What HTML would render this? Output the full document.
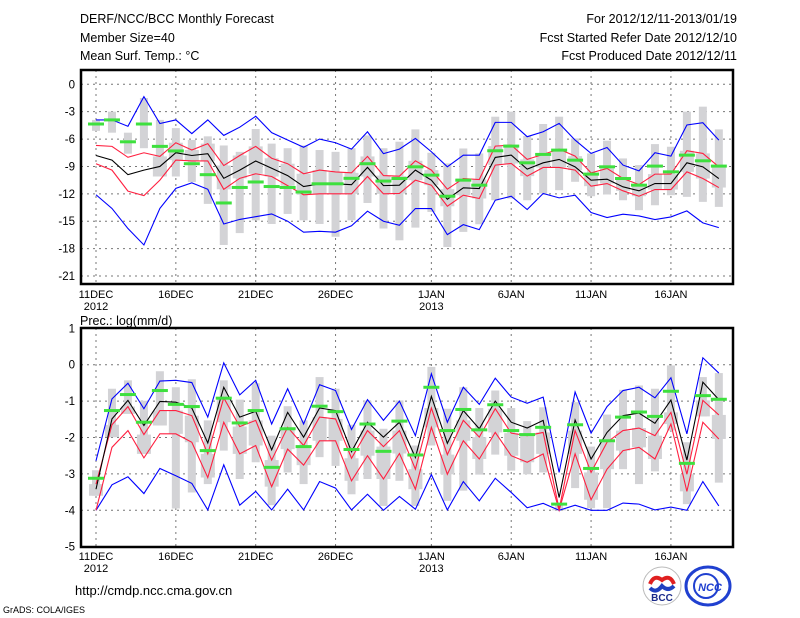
<!DOCTYPE html>
<html><head><meta charset="utf-8"><style>
html,body{margin:0;padding:0;background:#fff}
svg{display:block;font-family:"Liberation Sans",sans-serif}
</style></head><body>
<svg id="chart" width="800" height="618" viewBox="0 0 800 618" xmlns="http://www.w3.org/2000/svg">
<g font-size="12.5" fill="#000">
<text x="80" y="23">DERF/NCC/BCC Monthly Forecast</text>
<text x="80" y="42">Member Size=40</text>
<text x="80" y="60">Mean Surf. Temp.: °C</text>
<text x="737" y="23" text-anchor="end">For 2012/12/11-2013/01/19</text>
<text x="737" y="42" text-anchor="end">Fcst Started Refer Date 2012/12/10</text>
<text x="737" y="60" text-anchor="end">Fcst Produced Date 2012/12/11</text>
</g>
<g id="top"></g>
<g id="bot"></g>
<text x="80" y="325" font-size="12.5">Prec.: log(mm/d)</text>
<text x="75" y="595" font-size="13">http://cmdp.ncc.cma.gov.cn</text>
<text x="3" y="613" font-size="9">GrADS: COLA/IGES</text>
<g>
<circle cx="662" cy="586" r="19" fill="#fff" stroke="#bbb"/>
<path d="M650 584 q4 -10 12 -4 q8 -6 12 4" fill="none" stroke="#e02020" stroke-width="4"/>
<path d="M650 588 q6 6 12 -2 q6 6 12 0" fill="none" stroke="#2040c0" stroke-width="4"/>
<text x="662" y="601" font-size="10" font-weight="bold" text-anchor="middle" fill="#1a2a8a">BCC</text>
</g>
<g>
<ellipse cx="708" cy="586" rx="22" ry="19" fill="none" stroke="#2040d0" stroke-width="3"/>
<circle cx="706" cy="586" r="12" fill="none" stroke="#2040d0" stroke-width="2"/>
<text x="710" y="591" font-size="11" font-weight="bold" font-style="italic" text-anchor="middle" fill="#2040d0">NCC</text>
</g>
<script>
const days = ["11DEC","12","13","14","15","16DEC","17","18","19","20","21DEC","22","23","24","25","26DEC","27","28","29","30","31","1JAN","2","3","4","5","6JAN","7","8","9","10","11JAN","12","13","14","15","16JAN","17","18","19"];
const tempTicks = [0,-3,-6,-9,-12,-15,-18,-21];
const precTicks = [1,0,-1,-2,-3,-4,-5];
const tBlueUp = [-3.9,-3.9,-4.6,-1.35,-4.3,-3.9,-5.4,-3.9,-5.6,-4.7,-3.5,-5.3,-6.1,-6.9,-6.0,-6.4,-7.1,-5.2,-7.6,-7.10,-5.93,-7.39,-9.04,-7.76,-7.76,-4.17,-4.17,-5.74,-5.20,-4.28,-6.11,-7.57,-6.92,-8.85,-9.48,-7.50,-7.87,-4.46,-4.21,-6.11];
const tRedUp = [-6.7,-6.8,-8.0,-7.5,-7.9,-6.4,-7.2,-6.5,-8.9,-7.8,-6.8,-8.1,-8.7,-9.8,-9.4,-9.6,-9.7,-7.9,-10.0,-10.06,-8.38,-9.40,-11.49,-10.32,-10.43,-6.77,-6.66,-8.23,-7.68,-7.10,-7.87,-9.70,-9.22,-10.32,-10.98,-9.84,-9.84,-7.28,-7.57,-9.04];
const tMean = [-7.8,-8.3,-9.9,-9.4,-9.0,-7.5,-7.8,-7.6,-10.3,-9.4,-8.4,-9.2,-10.0,-11.2,-10.9,-10.9,-11.0,-9.1,-11.1,-11.05,-9.40,-10.50,-12.59,-11.34,-11.42,-8.01,-7.76,-9.29,-8.60,-8.23,-9.04,-10.50,-10.39,-11.23,-11.67,-10.87,-10.87,-8.60,-9.04,-10.32];
const tRedLow = [-8.7,-9.4,-11.7,-12.2,-10.5,-8.3,-8.4,-8.4,-11.5,-10.3,-9.8,-10.1,-11.1,-12.1,-12.0,-12.0,-12.0,-10.1,-12.0,-11.96,-10.50,-11.05,-13.36,-12.15,-12.51,-8.85,-8.67,-10.06,-9.11,-9.11,-9.40,-11.16,-10.87,-11.67,-12.26,-11.53,-11.53,-9.59,-10.32,-11.31];
const tBlueLow = [-12.1,-13.6,-15.8,-17.6,-13.6,-11.4,-10.8,-11.5,-15.3,-14.8,-14.5,-14.2,-15.0,-16.2,-16.1,-16.2,-15.5,-13.9,-15.0,-15.44,-13.61,-13.61,-16.47,-15.37,-15.92,-12.70,-12.26,-13.72,-11.96,-12.44,-12.15,-14.05,-14.60,-14.23,-14.42,-14.82,-14.53,-13.87,-15.18,-15.70];
const tObs = [-4.35,-3.9,-6.3,-4.35,-6.8,-7.3,-8.7,-9.9,-13.0,-11.3,-10.7,-11.2,-11.3,-11.8,-10.9,-10.9,-10.3,-8.7,-10.6,-10.32,-9.04,-9.95,-12.26,-10.50,-11.05,-7.28,-6.77,-8.60,-7.68,-7.21,-8.31,-9.84,-9.04,-10.32,-11.05,-8.96,-9.59,-7.76,-8.38,-8.96];
const tBoxMax = [-3.9,-3.0,-5.3,-1.5,-3.9,-4.8,-6.1,-5.7,-6.7,-7.4,-4.9,-6.5,-7.0,-6.7,-7.2,-7.4,-7.0,-5.6,-7.0,-6.29,-4.94,-7.50,-8.67,-7.03,-7.57,-3.55,-3.0,-5.67,-4.35,-3.55,-5.93,-7.57,-6.18,-8.12,-8.85,-6.55,-6.84,-3.0,-2.45,-4.94];
const tBoxMin = [-5.1,-5.3,-7.6,-7.0,-10.1,-10.1,-10.7,-13.1,-17.6,-16.3,-14.9,-15.3,-14.2,-14.9,-15.3,-16.7,-14.9,-13.0,-15.8,-17.09,-15.70,-13.98,-17.82,-16.17,-15.33,-12.70,-12.51,-12.70,-11.96,-11.60,-10.68,-12.26,-12.07,-12.70,-13.79,-13.25,-12.15,-12.33,-12.88,-13.43];
const pBlueUp = [-2.64,-0.94,-0.51,-1.21,-0.45,-0.43,-0.49,-1.44,0.05,-0.83,-0.43,-1.63,-0.66,-1.63,-0.55,-0.71,-1.78,-0.96,-1.53,-1.00,-1.95,-0.25,-1.58,-0.62,-1.09,-0.37,-0.89,-1.06,-0.89,-2.96,-0.75,-1.88,-1.15,-0.71,-0.62,-0.91,-0.36,-1.90,0.19,-0.23];
const pRedUp = [-3.28,-1.65,-1.15,-1.92,-1.26,-1.26,-1.40,-2.45,-0.91,-1.70,-1.53,-2.62,-1.72,-2.22,-1.44,-1.49,-2.57,-1.81,-2.25,-1.81,-2.87,-1.19,-2.47,-1.53,-1.99,-1.21,-1.88,-1.95,-1.86,-3.97,-1.81,-2.96,-2.13,-1.81,-1.74,-1.95,-1.31,-3.01,-0.98,-1.38];
const pMean = [-3.42,-1.49,-0.98,-1.67,-1.01,-1.03,-1.19,-2.15,-0.62,-1.44,-1.28,-2.34,-1.31,-1.99,-1.19,-1.26,-2.39,-1.58,-1.99,-1.58,-2.55,-0.87,-2.16,-1.26,-1.76,-1.00,-1.58,-1.74,-1.53,-3.65,-1.52,-2.59,-1.86,-1.40,-1.33,-1.61,-0.97,-2.62,-0.48,-0.96];
const pRedLow = [-4.0,-2.27,-1.81,-2.56,-1.90,-1.90,-2.13,-3.10,-1.58,-2.45,-2.22,-3.35,-2.32,-2.76,-2.09,-2.09,-3.19,-2.50,-3.14,-2.44,-3.42,-1.72,-3.01,-2.09,-2.59,-1.86,-2.50,-2.68,-2.45,-4.0,-2.45,-3.71,-2.87,-2.36,-2.27,-2.59,-1.63,-3.48,-1.58,-2.04];
const pBlueLow = [-4.0,-3.30,-3.08,-3.54,-2.85,-3.05,-3.26,-3.99,-2.75,-3.86,-3.48,-3.99,-3.42,-3.99,-3.21,-3.39,-3.99,-3.56,-4.0,-3.62,-3.97,-3.02,-3.99,-3.21,-3.74,-3.12,-3.51,-3.93,-3.81,-4.0,-3.86,-4.0,-4.0,-3.80,-3.83,-3.99,-3.91,-4.0,-3.21,-3.88];
const pObs = [-3.12,-1.26,-0.82,-1.58,-0.71,-1.09,-1.15,-2.36,-0.92,-1.60,-1.26,-2.82,-1.76,-2.25,-1.14,-1.29,-2.33,-1.63,-2.38,-1.55,-2.48,-0.62,-1.81,-1.23,-1.79,-1.10,-1.81,-1.92,-1.72,-3.83,-1.65,-2.85,-2.09,-1.44,-1.30,-1.42,-0.73,-2.71,-0.85,-0.95];
const pBoxMax = [-2.9,-0.66,-0.43,-0.99,-0.18,-0.62,-0.40,-1.53,-0.43,-0.96,-0.51,-1.95,-1.14,-1.53,-0.34,-0.66,-1.65,-0.99,-1.76,-0.98,-2.22,-0.06,-1.21,-0.62,-1.19,-0.71,-1.19,-1.55,-1.17,-3.83,-1.03,-2.25,-1.37,-0.69,-0.57,-0.66,-0.02,-2.13,-0.34,-0.23];
const pBoxMin = [-3.6,-1.99,-1.35,-2.45,-1.67,-3.95,-3.51,-3.28,-2.36,-3.14,-2.68,-3.86,-2.96,-3.28,-2.54,-2.78,-3.56,-3.14,-3.88,-3.19,-3.88,-2.22,-3.74,-3.46,-3.02,-2.47,-2.91,-3.01,-2.96,-4.0,-3.39,-3.94,-3.94,-2.87,-3.28,-2.93,-1.81,-3.83,-1.42,-3.24];

const NS = "http://www.w3.org/2000/svg";
const X0 = 96, DX = 15.97;
function xAt(i){ return X0 + i*DX; }
function mk(parent, tag, attrs){
  const e = document.createElementNS(NS, tag);
  for (const k in attrs) e.setAttribute(k, attrs[k]);
  parent.appendChild(e); return e;
}
function panel(g, fy0, fy1, vTop, yTop, yBot, vBot, ticks, xlabY, S){
  const yAt = v => yTop + (vTop - v) * (yBot - yTop) / (vTop - vBot);
  ticks.forEach(t => {
    const y = yAt(t);
    if (y > fy0+1 && y < fy1-1) {
      const l = mk(g,'line',{x1:81,x2:733,y1:y,y2:y,stroke:'#777','stroke-dasharray':'2,4','stroke-width':1});
      
      
    }
    const tx = mk(g,'text',{x:75,y:y+4,'text-anchor':'end','font-size':11.5});
    tx.textContent = t;
    
    
  });
  days.forEach((d,i) => {
    if (/[A-Z]/.test(d)) {
      const x = xAt(i);
      const l = mk(g,'line',{x1:x,x2:x,y1:fy0,y2:fy1,stroke:'#777','stroke-dasharray':'2,4','stroke-width':1});
      
      
      const tx = mk(g,'text',{x:x,y:xlabY,'text-anchor':'middle','font-size':11});
      tx.textContent = d;
      
      
      if (d==="11DEC" || d==="1JAN") {
        const y2 = mk(g,'text',{x:x,y:xlabY+12,'text-anchor':'middle','font-size':11});
        y2.textContent = d==="11DEC" ? "2012" : "2013";
        
        
      }
    }
  });
  days.forEach((d,i) => {
    const x = xAt(i);
    const a = yAt(S.boxMax[i]), b = yAt(S.boxMin[i]);
    const r = mk(g,'rect',{x:x-4,y:a,width:8,height:Math.max(1,b-a),fill:'#d3d3d6'});
    
    
    const ia = Math.max(a, yAt(S.redUp[i])), ib = Math.min(b, yAt(S.redLow[i]));
    if (ib > ia) {
      const r2 = mk(g,'rect',{x:x-7,y:ia,width:14,height:ib-ia,fill:'#d3d3d6'});
      
      
    }
  });
  const line = (arr, col, name) => {
    const p = mk(g,'polyline',{points: arr.map((v,i)=>xAt(i)+','+yAt(v)).join(' '), fill:'none', stroke:col,'stroke-width':1.1});
    
    
  };
  line(S.blueUp,'#0000ff','max-line');
  line(S.blueLow,'#0000ff','min-line');
  line(S.redUp,'#ff2040','upper-line');
  line(S.redLow,'#ff2040','lower-line');
  line(S.mean,'#000','ensemble-mean-line');
  S.obs.forEach((v,i) => {
    const r = mk(g,'rect',{x:xAt(i)-8,y:yAt(v)-1.5,width:16,height:3,fill:'#3ee03e'});
    
    
  });
  const f = mk(g,'rect',{x:81,y:fy0,width:652,height:fy1-fy0,fill:'none',stroke:'#000','stroke-width':2.5});
  
  
}
panel(document.getElementById('top'), 70, 284, 0, 84.3, 276, -21, tempTicks, 298,
  {blueUp:tBlueUp, redUp:tRedUp, mean:tMean, redLow:tRedLow, blueLow:tBlueLow, obs:tObs, boxMax:tBoxMax, boxMin:tBoxMin});
panel(document.getElementById('bot'), 328, 547, 1, 328.3, 546.7, -5, precTicks, 560,
  {blueUp:pBlueUp, redUp:pRedUp, mean:pMean, redLow:pRedLow, blueLow:pBlueLow, obs:pObs, boxMax:pBoxMax, boxMin:pBoxMin});
</script>
</svg>
</body></html>
